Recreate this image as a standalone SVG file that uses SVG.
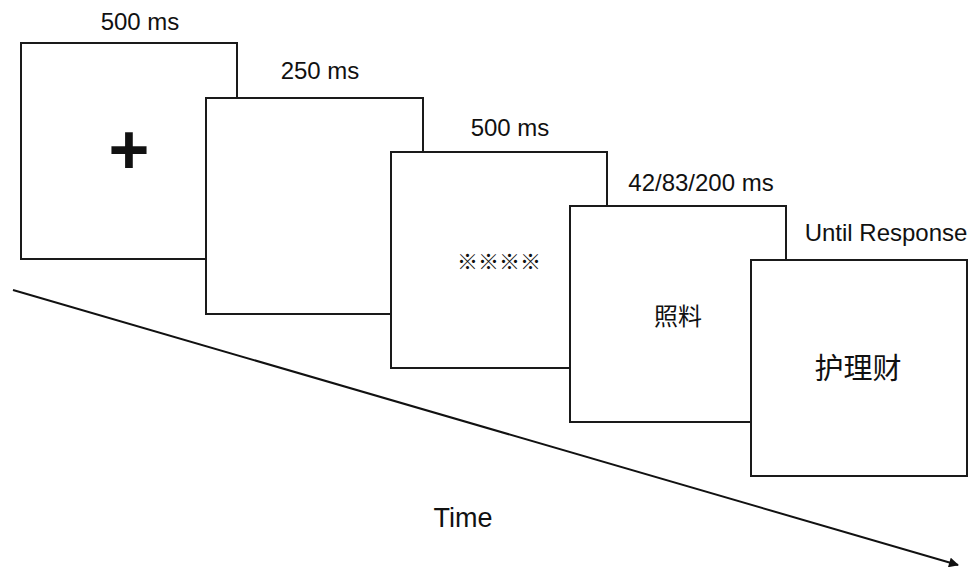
<svg xmlns="http://www.w3.org/2000/svg" width="973" height="568" viewBox="0 0 973 568">
<style>
.box{fill:#fff;stroke:#1a1a1a;stroke-width:2}
.lbl{font-family:"Liberation Sans",Arial,sans-serif;font-size:24px;fill:#111;text-anchor:middle}
.cjk{font-family:"Noto Sans CJK SC","Noto Sans",sans-serif;fill:#111;text-anchor:middle}
</style>
<defs>
<marker id="ah" viewBox="0 0 10 10" refX="9" refY="5" markerWidth="6" markerHeight="5" orient="auto" markerUnits="strokeWidth">
<path d="M0,0 L10,5 L0,10 z" fill="#111"/>
</marker>
</defs>
<rect width="973" height="568" fill="#fff"/>
<g id="connectors">
<line x1="13" y1="290" x2="958" y2="565" stroke="#111" stroke-width="2" marker-end="url(#ah)"/>
</g>
<g id="screen1">
<rect class="box" x="21" y="43" width="216" height="216"/>
<text class="lbl" x="140" y="30">500 ms</text>
<text x="129" y="174" font-family="Liberation Sans,Arial,sans-serif" font-weight="bold" font-size="70" text-anchor="middle" fill="#111">+</text>
</g>
<g id="screen2">
<rect class="box" x="206" y="98" width="217" height="216"/>
<text class="lbl" x="320" y="79">250 ms</text>
</g>
<g id="screen3">
<rect class="box" x="391" y="152" width="216" height="216"/>
<text class="lbl" x="510" y="136">500 ms</text>
<text class="cjk" x="499" y="269" font-size="21">※※※※</text>
</g>
<g id="screen4">
<rect class="box" x="570" y="206" width="216" height="216"/>
<text class="lbl" x="701" y="191">42/83/200 ms</text>
<text class="cjk" x="678" y="325" font-size="24">照料</text>
</g>
<g id="screen5">
<rect class="box" x="751" y="260" width="216" height="216"/>
<text class="lbl" x="886" y="241">Until Response</text>
<text class="cjk" x="858" y="379" font-size="29">护理财</text>
</g>
<g id="time-label">
<text class="lbl" x="463" y="527" style="font-size:27px">Time</text>
</g>
</svg>
